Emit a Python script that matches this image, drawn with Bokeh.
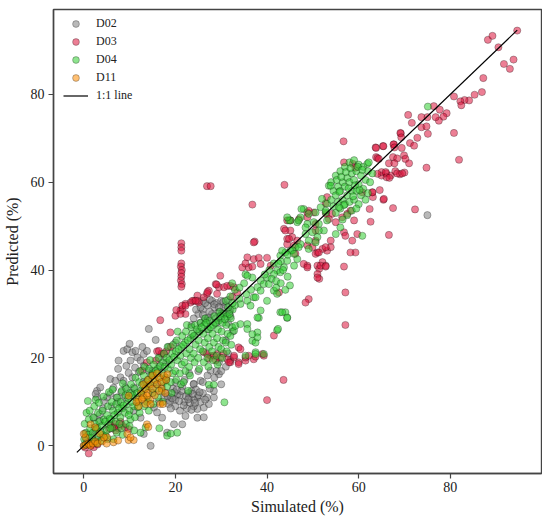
from bokeh.plotting import figure
from bokeh.models import Range1d, FixedTicker, Legend, LegendItem
from bokeh.embed import file_html
from bokeh.resources import INLINE

# ---------------- data ----------------
series_names = ["D02", "D03", "D04", "D11"]
line_label = "1:1 line"
tick_values = [0, 20, 40, 60, 80]
x_label = "Simulated (%)"
y_label = "Predicted (%)"
one_to_one = [-1.5, 94.6]

d02 = [
    (0, 0), (0.6, 1.2), (1.2, 0.3), (1.8, 2.2), (0.3, 2.8), (2.5, 3.5), (3.2, 1.5),
    (2.9, 12.5), (3.6, 13.3), (5.8, 15.2), (7.6, 19.4), (8.7, 21.6), (9.5, 22), (10.6, 21.3),
    (11.3, 21.6), (10.2, 19.4), (11.7, 20.1), (12.4, 19.4), (13.1, 20.9), (13.8, 21.6), (8, 15.6),
    (6.9, 14.8), (8.7, 14.8), (10.6, 15.6), (9.1, 13.3), (10.9, 13.3), (5.8, 11.8), (5.1, 11),
    (4.4, 10.2), (2.9, 11), (2.6, 11.8), (15.7, 24.1), (14.2, 26.6), (13.1, 18.2), (14.2, 17.1),
    (14.9, 15.9), (7.5, 17.5), (9.3, 18.2), (6.5, 13.2), (4.2, 8.5), (3.5, 7.2), (12, 16.8),
    (11.2, 17.8), (9.8, 16.6), (8.2, 12.2), (7.2, 11), (12.8, 22.5), (10, 23.2),
    (3.6, 5.7), (2.2, 6.4), (13.1, 2.7), (10.9, 8), (12.4, 6.4), (15.3, 8.7), (16, 7.6),
    (14.6, 0), (18.2, 3), (17.1, 6.4), (19.7, 4.9), (21.5, 4.9), (22.2, 6.8), (24.8, 6.4),
    (26.2, 8.7), (27.3, 9.5), (28.4, 11), (24.8, 8.4), (26.2, 6.5), (28.4, 12.5), (26.9, 11),
    (24.8, 11), (24, 14.1), (25.5, 14.8), (27.7, 17.1), (29.5, 16.3),
    (18, 12), (19, 11), (20, 10.5), (21, 11.5), (22, 10), (23, 11), (24, 10.5), (25, 11.5),
    (19.5, 13), (21.5, 13.5), (23.5, 12.5), (20, 9), (22.5, 8.5), (24, 9), (18.5, 9.5), (26, 12),
    (17, 13.5), (16, 14), (18, 15), (20, 14.5), (22, 15), (24, 14), (26, 14.5), (27.5, 13),
    (28.5, 15.5), (30, 14), (29, 17), (27, 16), (25, 17), (23, 16.5), (21, 8), (19, 8.5),
    (17.5, 11), (16.5, 10), (15, 12), (14, 13.5),
    (18.8, 10.2), (20.5, 11.8), (22.8, 12), (24.5, 12.8), (21.8, 9.2), (23.2, 9.8), (25.5, 10), (19.8, 12.2),
    (19.3, 10.8), (20.8, 10.2), (22.3, 11.3), (23.8, 11.8), (21.3, 12.5), (22.8, 10.6), (24.3, 9.8),
    (20.3, 12.8), (18.3, 11.3), (25.3, 12.2), (26.5, 10.5), (23.5, 8.2),
    (25, 30), (26, 31), (27, 32), (28, 33), (29, 32.5), (30, 33), (31, 32), (26.5, 29), (28, 30),
    (29.5, 30.5), (31, 30), (32, 31), (25.5, 28), (27, 28.5), (30, 29), (31.5, 28), (24, 29),
    (24.5, 31), (26, 33), (28.5, 31.5), (27.5, 30.5), (30.5, 31.5), (32, 29.5), (29, 28),
    (23.5, 27.5), (25, 26), (27, 26.5), (24, 25),
    (25.5, 31.5), (26.5, 32.5), (27.5, 33.3), (28.5, 32.2), (29.5, 31.5), (30.5, 32.8), (31.5, 33.2),
    (26, 29.8), (27.2, 29.2), (28.8, 29), (30.2, 30.2), (31.8, 30.5),
    (31, 18), (32, 19.5), (30, 17), (31.5, 21), (29.5, 19), (31, 24), (32.5, 26), (16.5, 18), (18, 19),
    (6, 9), (7.5, 10), (9, 11), (10.5, 12), (13, 14.5), (15, 17), (16.5, 20), (18.5, 22.5), (20, 23.5),
    (75, 52.5),
]

d03 = [
    (1.1, -1.75), (0.3, -0.4), (1.5, 0), (2.2, -0.3), (0.8, 0.8), (3, 0.3),
    (6, 4.5), (6.8, 5), (7.5, 4), (8.3, 4.8), (9, 4.2), (9.8, 3.8), (7, 3.5), (8, 5.5), (6.6, 4.2), (5.5, 3.8),
    (16, 21.5), (17, 21), (18, 21.5), (19, 22.5), (16.4, 21.6), (17.5, 20.9), (13.8, 19), (15.7, 19.4),
    (12.7, 17.1), (26.2, 21.3), (27.7, 20.5), (29.1, 20.9), (26.9, 20.9), (28.4, 20.5), (29.8, 20.1),
    (31.3, 19.7), (32, 19), (33.8, 19), (32.8, 20.1), (35.3, 19.4), (37.1, 19.7), (37.5, 20.3),
    (30.5, 21), (27.3, 19.8), (28.8, 19.5), (31.7, 19), (32.8, 20.5), (33.8, 22.4), (34.2, 22),
    (33.8, 18.6), (35.3, 20.1), (36, 20.5), (39, 20.9), (39.3, 20.5),
    (40, 10.4), (43.6, 15), (41.5, 25.1), (42.6, 34.9), (57.1, 27.5), (57.1, 34.9), (56.8, 40.8),
    (16.7, 28.6), (18.9, 25.8), (20, 29.6), (21.1, 30.8), (22.2, 30), (21.5, 31.1), (24, 33),
    (25.1, 32.6), (26.2, 33.8), (29.1, 34.6), (29.8, 38.7), (29.5, 36.1), (32, 36.4), (32.8, 36.1),
    (24.8, 34.2), (23.3, 32.6), (22.2, 32.3), (21.5, 31.9), (24.8, 33), (23.7, 33), (27.3, 35.3),
    (26.9, 34.6), (28.8, 36.8), (30.6, 36.1), (31.3, 36.4), (32.4, 33.9), (33.5, 34.9), (27, 35),
    (29, 36.7), (20.2, 30.9), (21.1, 30), (22.2, 31.9), (24.4, 33),
    (21.3, 46.1), (21.3, 45.2), (21.3, 44.4), (21.3, 41.5), (21.2, 40.8), (21.4, 40), (21.3, 39.3),
    (21.3, 38.5), (21.2, 37.6), (21.4, 36.8), (21.3, 36.2),
    (36.8, 54.9), (37.3, 46.5), (35.7, 42.9), (37.1, 42.5), (38.2, 42.8), (40, 42.8), (34.6, 40.6),
    (36, 40.6), (36.8, 40.8), (38.6, 41.4), (35.3, 41.5), (40.8, 41), (37.1, 46.3),
    (26.9, 59.1), (27.7, 59.1), (43.8, 59.4),
    (44.4, 45.9), (45.9, 45.6), (48.8, 45.6), (51, 44), (53.1, 44.4), (53.9, 45.2), (52.1, 41.8),
    (52.8, 41), (51, 41), (51.4, 40.3), (51, 39.1), (51.4, 38), (48.8, 41), (49.1, 33.4), (48.4, 32.6),
    (48, 41.4), (44.4, 51.3), (45.1, 49), (43.7, 49.4), (47, 51.6), (48.8, 53.1), (50.2, 53.1),
    (44.4, 47.1), (45.5, 47.5), (46.6, 46.7), (50.6, 43.7), (52.1, 44.8), (51.7, 41), (48.8, 40.6),
    (51, 38.3), (52.8, 40.8),
    (66.6, 48), (72.3, 53.8), (67.5, 54.1), (62.6, 51), (62.4, 53.9), (65.4, 56), (64.6, 58.2),
    (63.8, 65.7), (65.3, 68.2), (63.7, 67.9), (67.7, 68.6), (69.2, 71.1), (65, 61.5), (66, 62),
    (67, 61.5), (68, 62.5), (69, 61.8), (70, 62.2), (60.8, 57.7), (63, 57.7), (63.1, 56.6),
    (58.2, 53.5), (57.5, 52.8), (56.4, 52), (59, 51.3), (59.7, 48.2), (58.6, 46.7), (59.3, 44),
    (58.2, 44), (56.8, 48.6), (57.1, 47.8), (55, 50.9), (54.2, 52.8), (52.9, 52.8), (53.5, 51.6),
    (53.1, 56.6), (52.8, 55.2), (56.8, 64.5), (58.7, 64.2), (59.3, 63.3), (50.6, 50.5), (50.6, 49),
    (49.1, 53.5), (48.8, 52), (45.1, 51.3), (44, 49), (44.8, 47.1), (50.6, 46.7), (49.9, 45.2),
    (51.3, 44), (52.8, 45.2), (53.9, 46.7), (46.2, 43.7), (56.7, 69.3),
    (94.6, 94.5), (88.2, 92.4), (89.2, 93.3), (90.5, 90.7), (91.7, 86.9), (93, 85.8), (93.8, 87.9),
    (87.2, 83.7), (86.9, 80.5), (85.3, 79.9), (84.1, 78.6), (83.1, 78.7), (82.2, 78.4), (82.4, 77.5),
    (80.8, 79.5), (77.7, 76.5), (76.4, 77.3), (79.2, 75.7), (78.5, 74.9), (77.5, 74), (76.8, 74.8),
    (75, 74.8), (73.7, 74.8), (70.8, 75.3), (71.6, 73.5), (73.7, 72.5), (74.8, 72.7), (75.1, 71),
    (80.8, 71.2), (69.1, 71.2), (69.3, 70.2), (72.8, 70.1), (71.2, 68.9), (72.1, 68.3), (67.6, 68.6),
    (67.8, 67.9), (69.4, 67.8), (65.4, 68.2), (63.8, 67.8), (64.1, 65.5), (64.4, 65.3), (67.5, 65.7),
    (68.4, 65.4), (69.9, 66.1), (70.2, 65.3), (71, 64.3), (66.6, 64.3), (67.8, 64.3), (74.8, 63.3),
    (81.9, 65.1), (65, 62.3), (65.9, 62.3), (66.1, 61.1), (66.7, 61), (68.4, 62), (69.5, 62),
    (64.1, 61.9), (65.5, 56.2), (63, 57.7),
]

d04 = [
    (0.3, 0.2), (0.1, 1.5), (0.5, 3), (0.2, 5), (0.6, 7.5), (1.2, 0.5), (1.0, 2.5), (1.4, 4), (1.1, 6),
    (1.3, 8), (0.9, 10.2), (2.2, 1), (2.0, 3), (2.4, 5), (2.1, 6.5), (2.3, 9), (2.6, 10.5),
    (3.2, 2), (3.0, 4), (3.4, 5.5), (3.1, 7.5), (3.3, 9.8), (4.2, 2.5), (4.0, 4.5), (4.4, 6), (4.1, 8),
    (4.3, 11.2), (5.2, 1.5), (5.0, 3.5), (5.4, 5), (5.1, 7), (5.3, 9), (5.5, 12.2),
    (6.2, 4), (6.0, 6), (6.4, 8), (6.1, 10), (6.3, 12.8), (7.2, 3), (7.0, 5.5), (7.4, 7.5), (7.1, 9.5),
    (7.3, 11), (8.2, 4), (8.0, 6.5), (8.4, 8.5), (8.1, 10), (8.3, 12.5), (8.5, 14.2),
    (9.2, 5), (9.0, 7.5), (9.4, 9.5), (9.1, 11.5), (9.3, 13), (10.2, 6), (10.0, 8), (10.4, 10),
    (10.1, 12), (10.3, 14), (11.2, 6.5), (11.0, 9), (11.4, 11), (11.1, 13), (11.3, 15.5),
    (12.2, 7.5), (12.0, 10), (12.4, 12.5), (12.1, 14.5), (12.3, 17), (13.2, 9), (13.0, 11.5),
    (13.4, 13), (13.1, 16), (13.3, 18), (14.2, 8), (14.0, 10.5), (14.4, 13.5), (14.1, 15),
    (14.3, 17.5), (14.5, 19.5), (15.2, 9.5), (15.0, 12), (15.4, 14.5), (15.1, 16.5), (15.3, 18.5),
    (16.2, 11), (16.0, 13), (16.4, 15.5), (16.1, 17.5), (16.3, 20), (17.2, 10), (17.0, 12.5),
    (17.4, 14.5), (17.1, 16.5), (17.3, 19), (17.5, 21), (18.2, 13.5), (18.0, 15.5), (18.4, 17.5),
    (18.1, 20), (18.3, 22.5), (19.2, 12), (19.0, 14.5), (19.4, 16.5), (19.1, 18.5), (19.3, 21),
    (19.5, 23), (20.2, 15), (20.0, 17), (20.4, 19.5), (20.1, 21.5), (20.3, 24), (20.5, 26),
    (21.2, 14), (21.0, 16.5), (21.4, 18.5), (21.1, 20.5), (21.3, 22.5), (21.5, 25),
    (22.2, 17), (22.0, 19), (22.4, 21), (22.1, 23.5), (22.3, 26), (22.5, 27.5),
    (23.2, 16), (23.0, 18), (23.4, 20), (23.1, 22), (23.3, 24.5), (23.5, 27),
    (24.2, 19), (24.0, 21), (24.4, 23), (24.1, 25), (24.3, 27.5),
    (25.2, 17.5), (25.0, 20), (25.4, 22), (25.1, 24), (25.3, 26), (25.5, 28),
    (26.2, 19), (26.0, 21.5), (26.4, 23.5), (26.1, 25.5), (26.3, 27.5), (26.5, 29),
    (27.2, 18), (27.0, 20), (27.4, 22.5), (27.1, 24.5), (27.3, 26.5), (27.5, 28.5),
    (28.2, 19.5), (28.0, 21.5), (28.4, 23.5), (28.1, 25.5), (28.3, 27.5), (28.5, 29.5),
    (29.2, 18.5), (29.0, 20.5), (29.4, 22.5), (29.1, 24.5), (29.3, 26.5), (29.5, 28.5), (29.7, 30.5),
    (30.2, 20), (30.0, 22), (30.4, 24), (30.1, 26), (30.3, 28), (30.5, 30),
    (31.2, 21.5), (31.0, 23.5), (31.4, 25.5), (31.1, 27.5), (31.3, 29.5),
    (32.2, 23), (32.0, 25), (32.4, 27), (32.1, 29), (32.5, 31),
    (1.7, 1.8), (2.7, 3.8), (3.7, 3.2), (4.7, 5.5), (5.7, 6.2), (6.7, 7), (7.7, 8.5), (8.7, 9.2),
    (9.7, 10.8), (10.7, 11.5), (11.7, 12), (12.7, 13.8), (13.7, 14.5), (14.7, 16), (15.7, 17),
    (16.7, 18.2), (17.7, 18), (18.7, 19.5), (19.7, 20.2), (20.7, 22), (21.7, 23), (22.7, 24),
    (23.7, 25.5), (24.7, 26.5), (25.7, 27), (26.7, 28), (27.7, 27), (28.7, 28), (29.8, 29.5),
    (30.8, 28.8), (31.8, 30), (5.8, 4), (7.8, 5), (9.8, 7), (11.8, 8.8), (13.8, 10), (3.8, 1.2),
    (2.8, 0.6), (4.8, 2.2),
    (12.4, 3), (18.2, 2.3), (20.4, 3), (13.5, 4.2), (19, 2.8), (30.7, 9.9), (27.3, 13.9), (16.5, 4),
    (10, 4.5), (6.5, 1.5), (8.5, 2.5), (11, 3.5), (22.8, 12.5), (21.8, 14.5), (28.4, 13.9),
    (35.3, 39), (37.1, 33.8), (35.7, 27.7), (37.9, 25.8), (36.8, 23.9), (37.5, 23.5), (37.5, 21.3),
    (32.8, 26.2), (33.1, 27.3), (36.8, 38.3), (32.4, 37), (42.9, 30.4), (44, 30.4), (44.4, 29.1),
    (42.2, 26.3), (38.2, 29.1), (39.3, 20.9), (37.5, 20.9), (35.3, 20.5), (37.9, 24.7), (36.8, 25.4),
    (35.7, 26.6), (34.2, 27.7), (42.4, 26.6),
    (52, 56.2), (53.1, 55.1), (51.7, 54.3), (52.8, 53.1), (50.6, 53.1), (48, 53.9), (47.3, 52),
    (45.1, 51.3), (46.6, 50.9), (48.8, 50.5), (50.2, 50.9), (51.3, 50.5), (53.1, 51.3), (52.4, 49),
    (49.9, 48.6), (48.4, 48.2), (51, 47.5), (49.1, 46.7), (47.3, 45.9), (46.2, 45.2), (45.1, 44.4),
    (44, 44), (42.9, 43.3), (44.4, 42.1), (46.6, 42.5), (45.9, 41), (43.7, 40.6), (42.2, 39.9),
    (42.9, 39.5), (41.5, 39.1), (40, 38.3), (38.6, 37.6), (39.3, 36.8), (37.9, 36.1), (35.7, 38.7),
    (38.6, 35.3), (40.4, 36.8), (41.5, 35.3), (42.2, 34.6), (37.5, 33.8), (35.7, 33), (34.2, 32.3),
    (36.4, 31.9), (40, 33), (38.6, 30.8), (37.9, 29.2), (43.3, 30.4), (44.4, 29.2), (53.5, 59.2),
    (31, 33), (32, 34), (33, 35.5), (34, 36), (35, 37), (33, 32), (34, 33.5), (35.5, 34.5),
    (36.5, 35.5), (31.5, 31.5), (32.5, 32.5), (40.5, 40), (41.5, 41.5), (43, 42), (39.5, 39),
    (44.5, 43.5), (45.5, 44.5), (41, 38), (42, 37.5), (42.5, 41.5), (43.5, 40), (44.5, 38.5),
    (43, 37), (44, 35.5), (45, 36.5), (42, 36),
    (54, 60), (55, 61.5), (56, 62.5), (57, 63.5), (58, 64.5), (59, 65), (60, 64), (61, 63.5), (62, 62.5),
    (63, 62), (54.5, 58), (55.5, 59), (56.5, 60), (57.5, 61), (58.5, 62), (59.5, 62.5), (60.5, 61.5),
    (61.5, 60.5), (62.5, 60), (54, 56), (55, 57), (56, 58), (57, 59), (58, 60), (59, 60.5), (60, 59.5),
    (61, 58.5), (62, 57.5), (54.5, 54.5), (55.5, 55.5), (56.5, 56), (57.5, 57), (58.5, 58), (59.5, 58),
    (60.5, 57), (61.5, 56), (55, 53), (56, 54), (57, 55), (58, 55.5), (59, 56), (60, 55), (57.5, 52.5),
    (58.5, 53.5), (56.5, 51.5), (59.5, 54), (61.9, 64.2), (62.2, 64.5),
    (55.2, 60.5), (56.2, 61.2), (57.2, 62.3), (58.2, 63.2), (59.8, 63.5), (60.8, 62.8), (55.8, 57.8),
    (57.8, 58.6), (59.2, 59.3), (60.2, 58.2), (56.8, 54.8), (58.8, 56.8),
    (53.9, 59.2), (47.5, 53.9), (46.9, 51.3), (44.8, 51.3), (44.4, 52), (49.1, 52.8), (48.4, 49.7),
    (51.3, 49), (52.8, 53.5), (55.7, 54.3), (60.8, 47.8), (56, 49.7), (55, 48.2), (50.6, 46.3),
    (49.1, 44.8), (46.9, 45.2), (45.9, 43.7), (43.3, 44.4),
    (75.1, 77.2),
]

d11 = [
    (12, 10.5), (12.5, 12), (13, 11), (13.5, 13), (14, 12), (14.5, 14), (15, 13), (15.5, 15), (16, 14),
    (16.5, 15.5), (17, 14.5), (17.5, 16), (18, 15), (18.3, 16.3), (13, 14), (14, 15), (15, 16),
    (16, 16.5), (17, 13), (15.5, 11.5), (14.5, 10.5), (13.5, 9.5), (12, 9), (11.5, 10), (16.5, 12.5),
    (13.8, 11.4), (9.8, 11.4), (12.7, 10.6), (16.7, 9.5), (14.6, 9.5), (17.3, 9.5), (17.8, 12),
    (13.8, 4.9), (14.1, 4.3), (0, 0), (0.5, 0.3), (1, 0.5), (1.5, 0), (2, 0.5), (2.5, 1), (3, 0.5),
    (4, 1), (5, 0.5), (1.5, 4.9), (5.1, 1.9), (9.8, 1.3), (10.9, 1.3), (9.5, 2.7), (0.4, 1.9),
    (4.4, 1.9), (10.2, 1.9), (0, 2.7), (2.5, 4.2), (3.5, 2.8), (6.5, 0.8), (7.5, 1.2),
]

colors = ["grey", "crimson", "limegreen", "darkorange"]

FONT = "Liberation Serif"

p = figure(width=542, height=517, output_backend="svg", toolbar_location=None,
           x_range=Range1d(-6.6, 99.9), y_range=Range1d(-6.3, 99.3),
           min_border_left=53, min_border_right=1, min_border_top=9, min_border_bottom=40)

renderers = []
for name, pts, col in zip(series_names, [d02, d03, d04, d11], colors):
    r = p.scatter([q[0] for q in pts], [q[1] for q in pts], size=7.2, marker="circle",
                  fill_color=col, fill_alpha=0.55, line_color="black", line_alpha=0.45,
                  line_width=0.6)
    renderers.append((name, r))

lr = p.line(one_to_one, one_to_one, line_color="black", line_width=1.2)

items = [LegendItem(label=n, renderers=[r]) for n, r in renderers]
items.append(LegendItem(label=line_label, renderers=[lr]))
legend = Legend(items=items, location=(10, 369), padding=0, margin=0, spacing=1,
                glyph_height=17, glyph_width=25, label_height=17, label_standoff=8,
                border_line_alpha=0, background_fill_alpha=0,
                label_text_font=FONT, label_text_font_size="12px", label_text_color="#222222")
p.add_layout(legend)

p.xgrid.visible = False
p.ygrid.visible = False
p.outline_line_color = "#444444"
p.outline_line_width = 1.4

for ax in (p.xaxis[0], p.yaxis[0]):
    ax.ticker = FixedTicker(ticks=tick_values)
    ax.minor_tick_line_color = None
    ax.major_tick_in = 0
    ax.major_tick_out = 5
    ax.major_tick_line_color = "#444444"
    ax.major_tick_line_width = 1.2
    ax.axis_line_color = "#444444"
    ax.axis_line_width = 1.4
    ax.major_label_text_font = FONT
    ax.major_label_text_font_size = "14px"
    ax.major_label_text_color = "#222222"
    ax.major_label_standoff = 4
    ax.axis_label_text_font = FONT
    ax.axis_label_text_font_size = "16px"
    ax.axis_label_text_font_style = "normal"
    ax.axis_label_text_color = "#222222"

p.xaxis[0].major_label_standoff = 3
p.xaxis[0].axis_label_standoff = 3
p.yaxis[0].axis_label_standoff = 7

p.xaxis.axis_label = x_label
p.yaxis.axis_label = y_label

open("out.html", "w").write(file_html(p, INLINE))
